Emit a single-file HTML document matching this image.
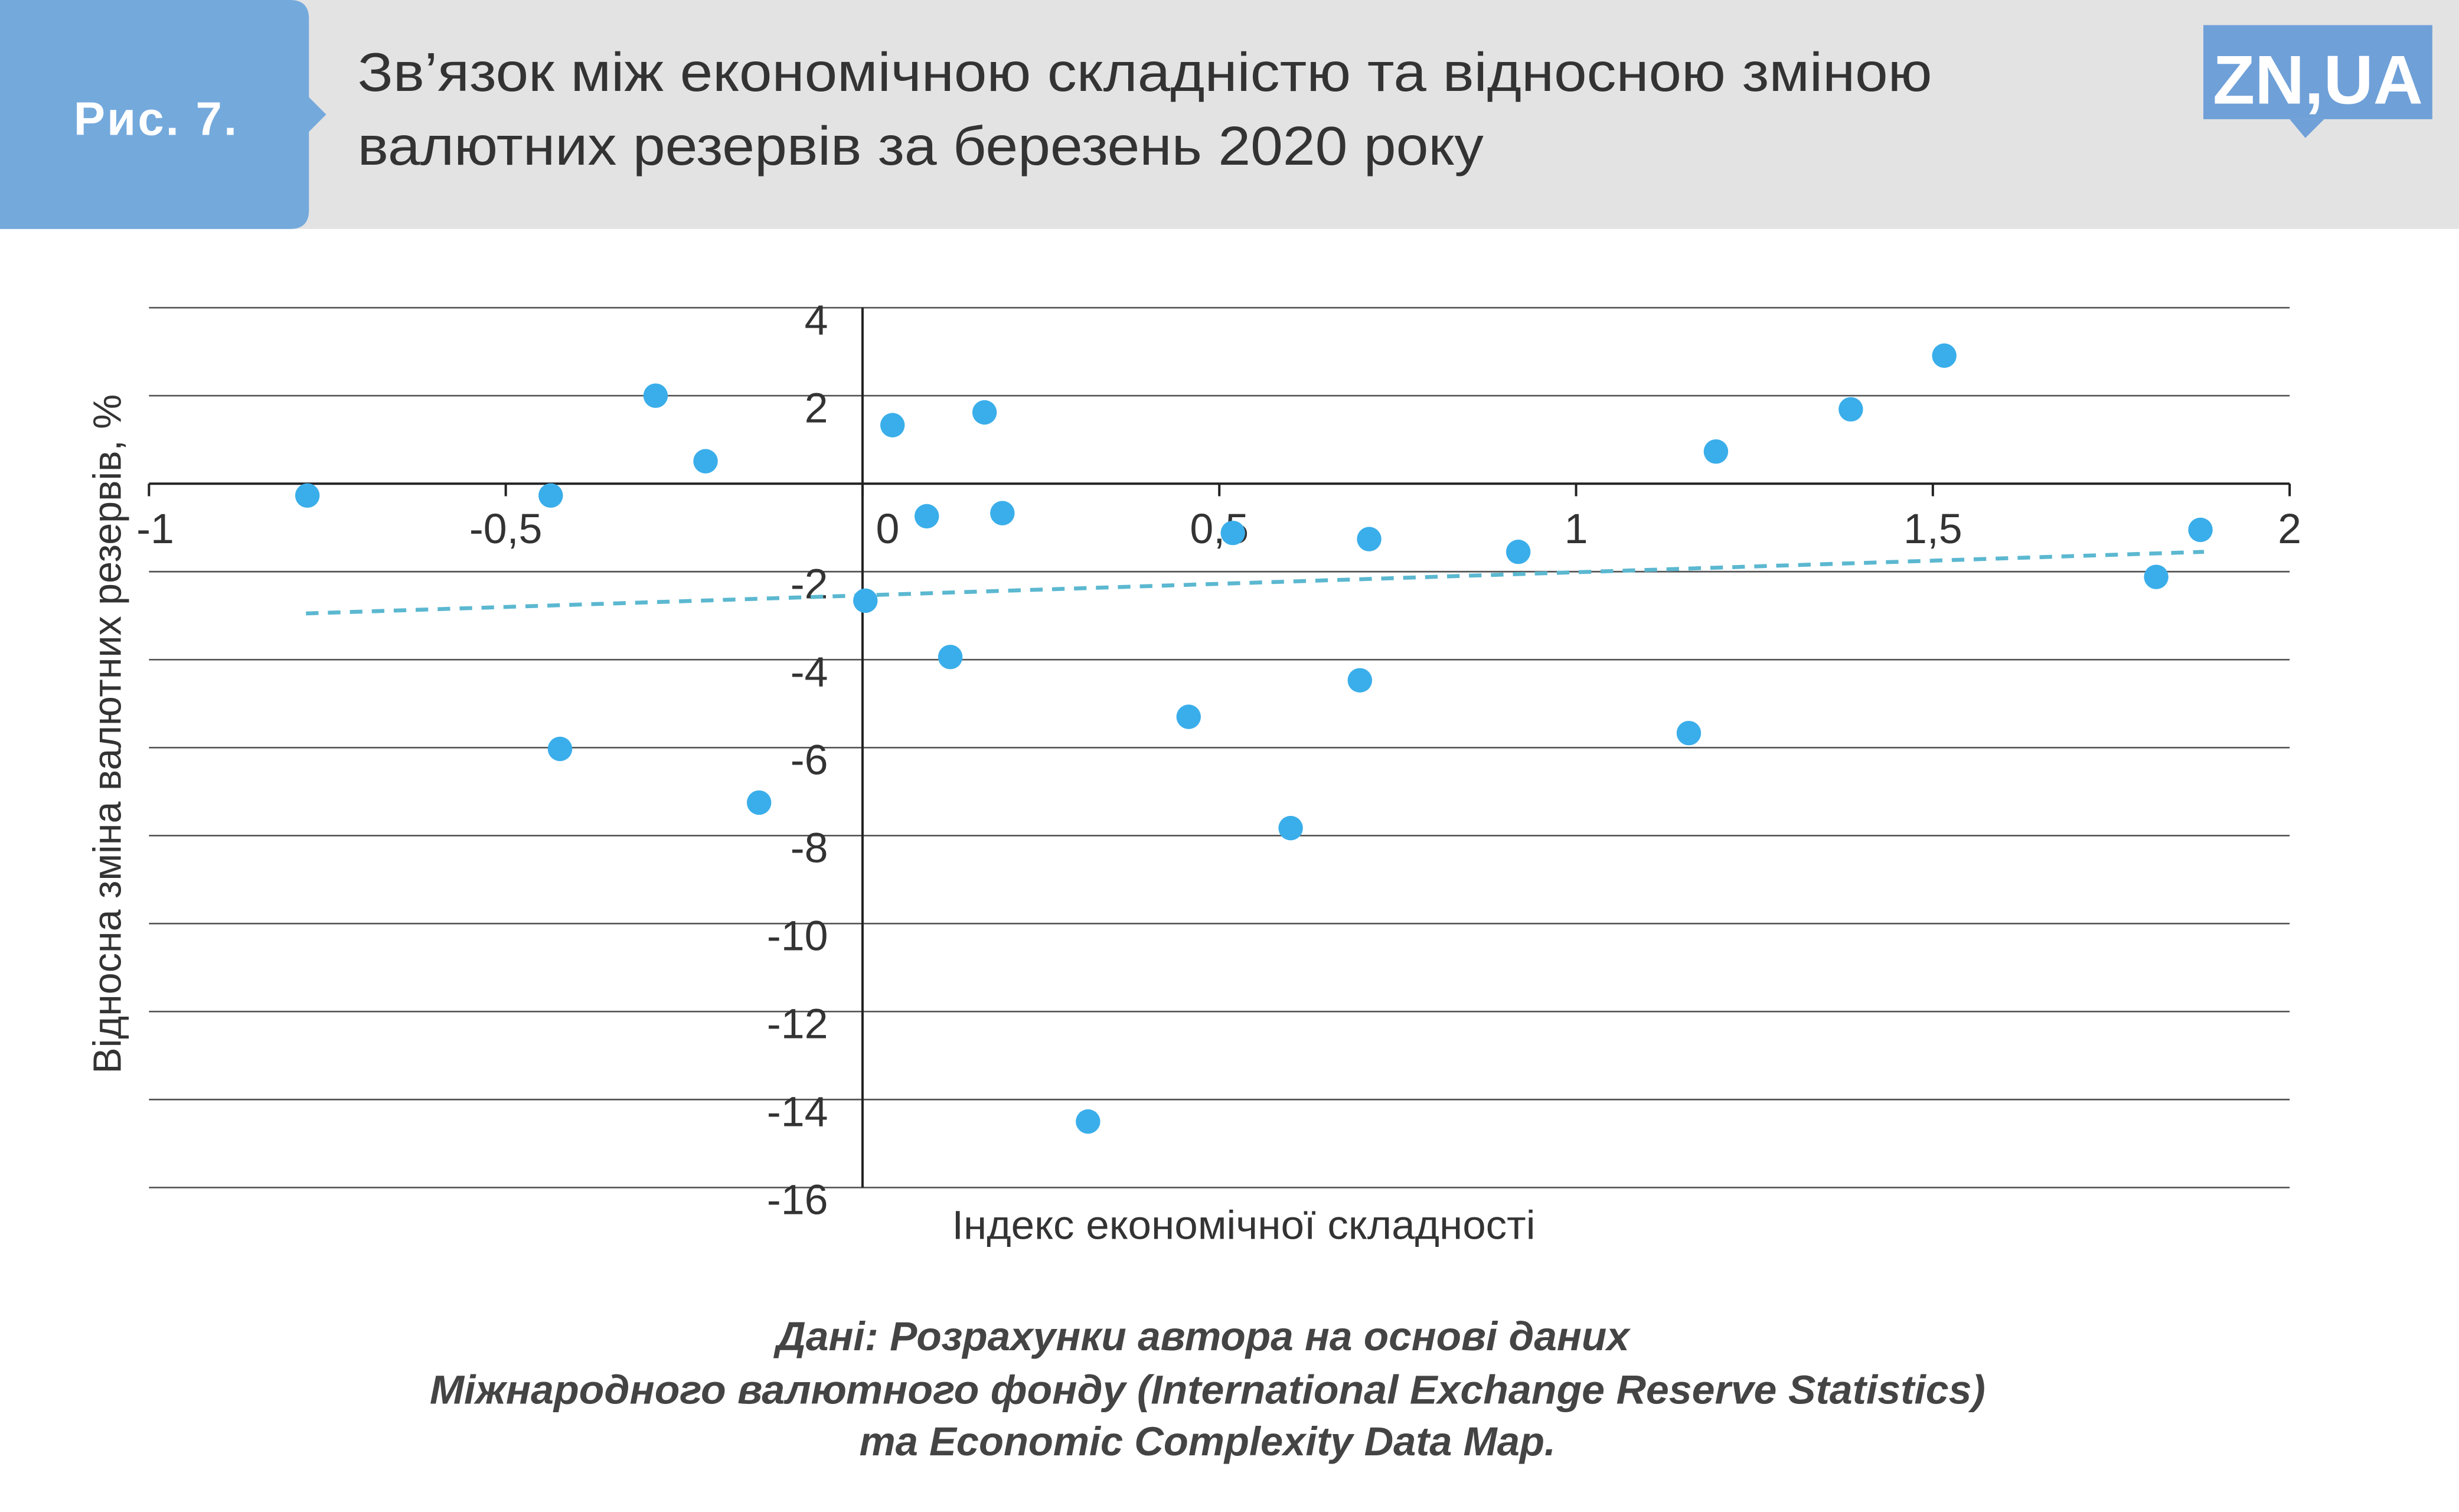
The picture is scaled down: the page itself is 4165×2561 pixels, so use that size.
<!DOCTYPE html>
<html><head><meta charset="utf-8"><style>
html,body{margin:0;padding:0;background:#fff;}
svg{display:block;font-family:"Liberation Sans","DejaVu Sans",sans-serif;}
</style></head><body>
<svg id="c" width="4165" height="2561" viewBox="0 0 1568 964.1" preserveAspectRatio="none">
<rect x="0" y="0" width="1568" height="146" fill="#e3e3e3"/>
<path d="M0 0 H185 Q197 0 197 12 V62 L208 73 L197 84 V134 Q197 146 185 146 H0 Z" fill="#74a9dc"/>
<text x="47" y="86" font-size="30" font-weight="bold" fill="#fff" textLength="104">Рис. 7.</text>
<text x="228" y="58" font-size="35" fill="#333" textLength="1004" lengthAdjust="spacingAndGlyphs">Зв’язок між економічною складністю та відносною зміною</text>
<text x="228" y="105" font-size="35" fill="#333" textLength="718" lengthAdjust="spacingAndGlyphs">валютних резервів за березень 2020 року</text>
<g>
<rect x="1405" y="16" width="146" height="60" fill="#6fa0d8"/>
<path d="M1460 76 L1470 88 L1482 76 Z" fill="#6fa0d8"/>
<text x="1478" y="66" font-size="44" font-weight="bold" fill="#fff" text-anchor="middle" textLength="134" lengthAdjust="spacingAndGlyphs">ZN,UA</text>
</g>
<g id="plot"></g>
<text transform="translate(77,468) rotate(-90)" font-size="25" fill="#333" text-anchor="middle">Відносна зміна валютних резервів, %</text>
<text x="793" y="790" font-size="26" fill="#333" text-anchor="middle" textLength="372" lengthAdjust="spacingAndGlyphs">Індекс економічної складності</text>
<g font-size="26" font-style="italic" font-weight="bold" fill="#444" text-anchor="middle">
<text x="767" y="861" textLength="544" lengthAdjust="spacingAndGlyphs">Дані: Розрахунки автора на основі даних</text>
<text x="770" y="895" textLength="992" lengthAdjust="spacingAndGlyphs">Міжнародного валютного фонду (International Exchange Reserve Statistics)</text>
<text x="770" y="928" textLength="444" lengthAdjust="spacingAndGlyphs">та Economic Complexity Data Map.</text>
</g>
</svg>
<script>
const xTicks=[-1,-0.5,0,0.5,1,1.5,2];
const xTickLabels=["-1","-0,5","0","0,5","1","1,5","2"];
const yTicks=[4,2,0,-2,-4,-6,-8,-10,-12,-14,-16];
const yTickLabels=["4","2","","-2","-4","-6","-8","-10","-12","-14","-16"];
const complexity=[-0.778,-0.437,-0.29,-0.22,-0.424,-0.145,0.004,0.042,0.09,0.123,0.171,0.196,0.316,0.457,0.519,0.6,0.697,0.71,0.919,1.158,1.196,1.385,1.516,1.813,1.875];
const reserveChange=[-0.27,-0.27,2.0,0.51,-6.03,-7.25,-2.66,1.33,-0.74,-3.94,1.62,-0.67,-14.5,-5.3,-1.12,-7.83,-4.47,-1.26,-1.55,-5.67,0.73,1.69,2.91,-2.12,-1.05];
const trendX=[-0.78,1.88];
const trendY=[-2.95,-1.55];
const NS="http://www.w3.org/2000/svg";
const X=v=>550+(v)*455;
const Y=v=>308.4-v*28.05;
const g=document.getElementById('plot');
function mk(t,a){const e=document.createElementNS(NS,t);for(const k in a)e.setAttribute(k,a[k]);g.appendChild(e);return e;}
yTicks.forEach((t,i)=>{
 if(t!==0){const l=mk('line',{x1:95,x2:1460,y1:Y(t),y2:Y(t),stroke:'#555','stroke-width':1});
 
 }
 if(yTickLabels[i]){const tx=mk('text',{x:528,y:Y(t)+17,'font-size':27,fill:'#333','text-anchor':'end'});tx.textContent=yTickLabels[i];
 
 }
});
const ax=mk('line',{x1:95,x2:1460,y1:Y(0),y2:Y(0),stroke:'#222','stroke-width':1.5});


const ay=mk('line',{x1:X(0),x2:X(0),y1:Y(4),y2:Y(-16),stroke:'#222','stroke-width':1.5});


xTicks.forEach((t,i)=>{
 const tk=mk('line',{x1:X(t),x2:X(t),y1:Y(0),y2:Y(0)+8,stroke:'#222','stroke-width':1.5});
 
 
 const tx=mk('text',{x:X(t)+(t===-1?4:t===0?16:0),y:Y(0)+38,'font-size':27,fill:'#333','text-anchor':'middle'});
 tx.textContent=xTickLabels[i];
 
 
});
const tr=mk('line',{x1:X(trendX[0]),x2:X(trendX[1]),y1:Y(trendY[0]),y2:Y(trendY[1]),stroke:'#5bb8d0','stroke-width':2.5,'stroke-dasharray':'8,6'});


complexity.forEach((c,i)=>{
 const p=mk('circle',{cx:X(c),cy:Y(reserveChange[i]),r:7.8,fill:'#3aaeea'});
 
 
});
</script>
</body></html>
